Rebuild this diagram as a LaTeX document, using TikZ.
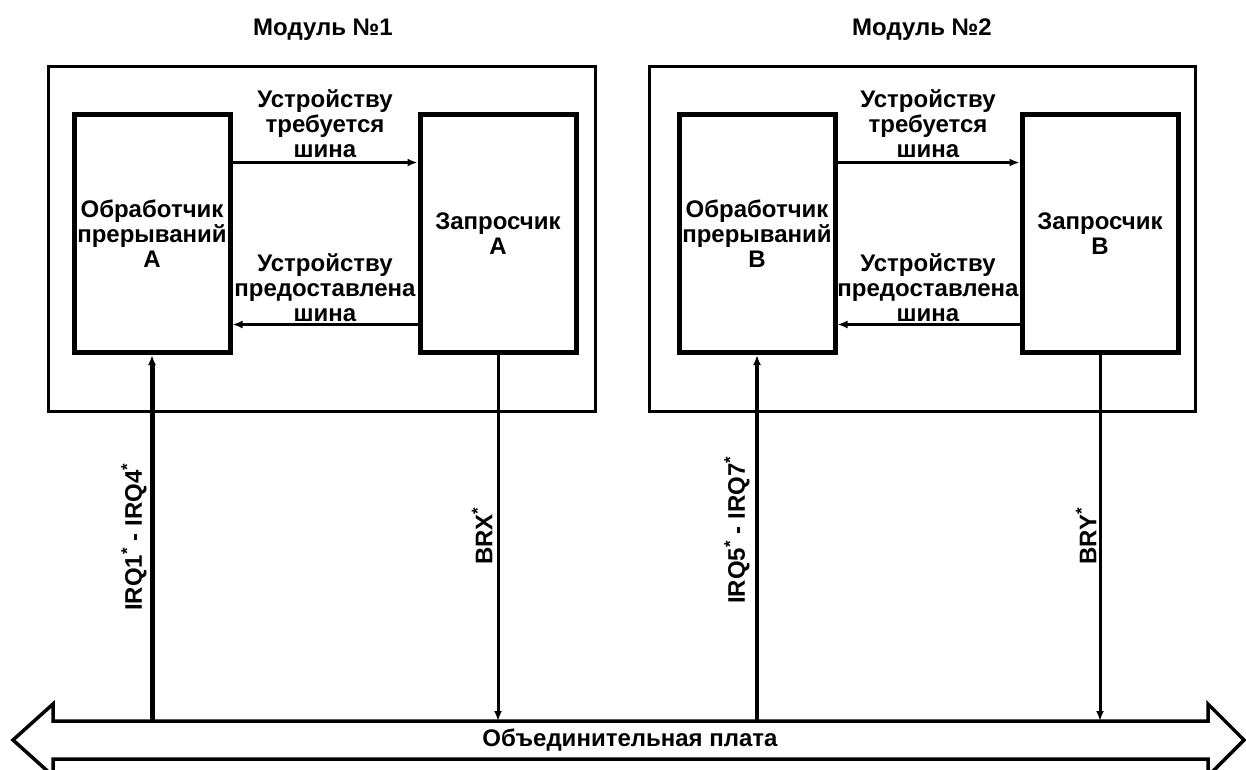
\documentclass[tikz,border=0pt]{standalone}
\usepackage{fontspec}
\setmainfont{Liberation Sans}
\usetikzlibrary{arrows.meta}

\tikzset{
  txt/.style={font=\fontsize{24}{25}\selectfont\bfseries, align=center, inner sep=1pt},
  unit/.style={txt, draw, line width=5pt, minimum width=156pt, minimum height=238pt},
  sig/.style={line width=3pt, ->},
}

\begin{document}
\begin{tikzpicture}[x=1pt, y=-1pt, >={Latex[length=10pt,width=8pt]}]
    \useasboundingbox (0,0) rectangle (1246,770);

    % modules
    \draw[line width=3pt] (48.5,66.5) rectangle (595.5,411.5);
    \draw[line width=3pt] (649.5,66.5) rectangle (1195.5,411.5);
    \node[txt] (mod1) at (323,30) {Модуль №1};
    \node[txt] (mod2) at (922,30) {Модуль №2};

    \node[unit] (hA) at (152,233.5) {Обработчик\\прерываний\\А};
    \node[unit] (rA) at (498,233.5) {Запросчик\\А};
    \node[unit] (hB) at (757,233.5) {Обработчик\\прерываний\\В};
    \node[unit] (rB) at (1100,233.5) {Запросчик\\В};

    % handshake between handler and requester
    \draw[sig] ([yshift=71pt]hA.east) -- ([yshift=71pt]rA.west);
    \draw[sig] ([yshift=-91pt]rA.west) -- ([yshift=-91pt]hA.east);
    \draw[sig] ([yshift=71pt]hB.east) -- ([yshift=71pt]rB.west);
    \draw[sig] ([yshift=-91pt]rB.west) -- ([yshift=-91pt]hB.east);
    \node[txt] (needA) at (325,124) {Устройству\\требуется\\шина};
    \node[txt] (giveA) at (325,288) {Устройству\\предоставлена\\шина};
    \node[txt] (needB) at (928,124) {Устройству\\требуется\\шина};
    \node[txt] (giveB) at (928,288) {Устройству\\предоставлена\\шина};

    % backplane
    \coordinate (busN) at (0,721);
    \draw[line width=3.5pt, line join=miter] (13,740) -- (53,704) -- (53,721) -- (1208,721)
      -- (1208,704) -- (1244,740) -- (1208,776) -- (1208,759) -- (53,759) -- (53,776) -- cycle;
    \node[txt] (bus) at (630,740) {Объединительная плата};

    % interrupt and bus request lines
    \draw[sig, line width=5pt] (hA.south |- busN) -- (hA.south);
    \draw[sig] (rA.south) -- (rA.south |- busN);
    \draw[sig, line width=3.5pt] (hB.south |- busN) -- (hB.south);
    \draw[sig] (rB.south) -- (rB.south |- busN);
    \node[txt, rotate=90] (irqA) at (134,537) {IRQ1\textsuperscript{*} - IRQ4\textsuperscript{*}};
    \node[txt, rotate=90] (brx) at (482,536) {BRX\textsuperscript{*}};
    \node[txt, rotate=90] (irqB) at (737,530) {IRQ5\textsuperscript{*} - IRQ7\textsuperscript{*}};
    \node[txt, rotate=90] (bry) at (1086,536) {BRY\textsuperscript{*}};
\end{tikzpicture}
\end{document}
